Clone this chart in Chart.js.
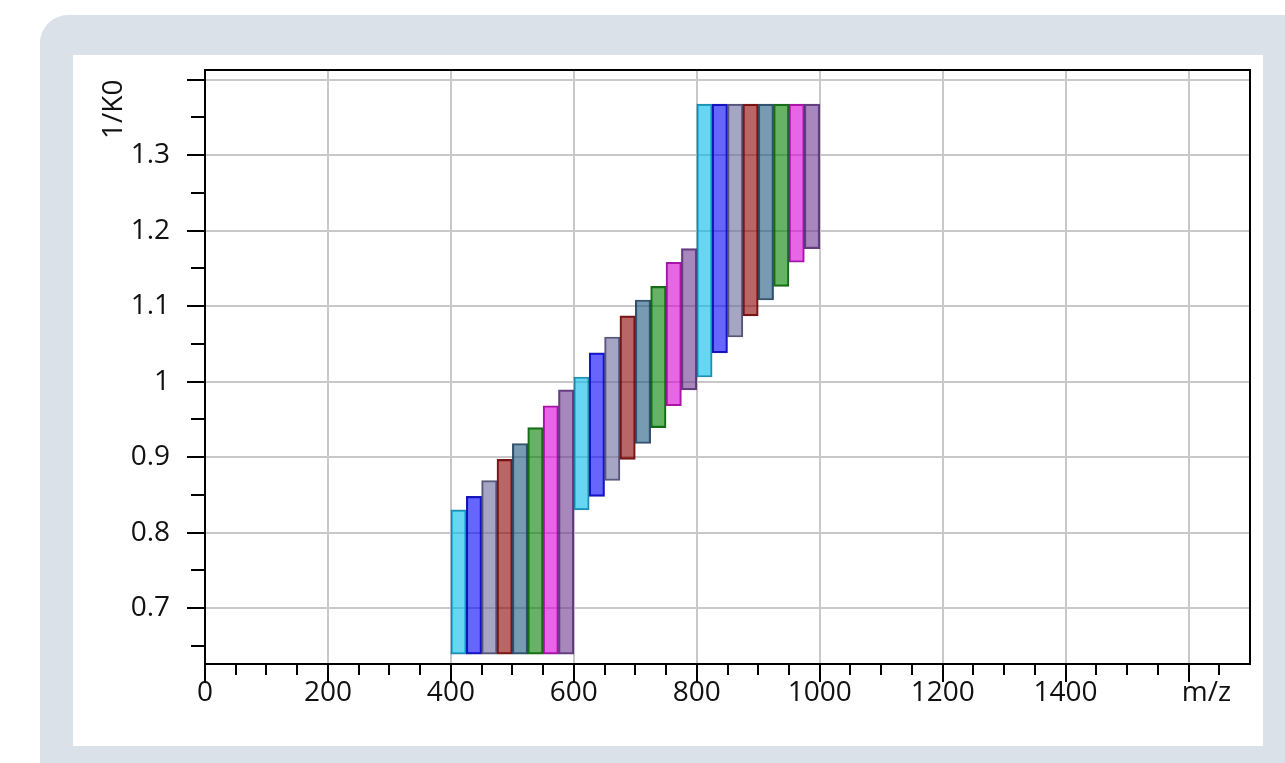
<!DOCTYPE html>
<html>
<head>
<meta charset="utf-8">
<script src="https://cdn.jsdelivr.net/npm/chart.js@4.4.1/dist/chart.umd.min.js"></script>
<style>
  html, body { margin: 0; padding: 0; background: #ffffff; width: 1285px; height: 763px; overflow: hidden; }
  #panel { position: absolute; left: 40px; top: 15px; width: 1320px; height: 820px; background: #dae1e8; border-radius: 28px; }
  #box { position: absolute; left: 73px; top: 55px; width: 1190px; height: 691px; background: #ffffff; }
  #box canvas { display: block; }
</style>
</head>
<body>
<div id="panel"></div>
<div id="box"><canvas id="chart"></canvas></div>
<script>
// ---- data ----
const mzLow  = [400, 425, 450, 475, 500, 525, 550, 575,
                600, 625, 650, 675, 700, 725, 750, 775,
                800, 825, 850, 875, 900, 925, 950, 975];
const mzHigh = [425, 450, 475, 500, 525, 550, 575, 600,
                625, 650, 675, 700, 725, 750, 775, 800,
                825, 850, 875, 900, 925, 950, 975, 1000];
const k0Low  = [0.639, 0.639, 0.639, 0.639, 0.639, 0.639, 0.639, 0.639,
                0.830, 0.848, 0.869, 0.897, 0.918, 0.939, 0.968, 0.989,
                1.006, 1.038, 1.059, 1.087, 1.108, 1.126, 1.158, 1.176];
const k0High = [0.830, 0.848, 0.869, 0.897, 0.918, 0.939, 0.968, 0.989,
                1.006, 1.038, 1.059, 1.087, 1.108, 1.126, 1.158, 1.176,
                1.3675, 1.3675, 1.3675, 1.3675, 1.3675, 1.3675, 1.3675, 1.3675];

const xTickValues = [0, 200, 400, 600, 800, 1000, 1200, 1400, 1600];
const xTickLabels = ['0', '200', '400', '600', '800', '1000', '1200', '1400', 'm/z'];
const yTickValues = [0.7, 0.8, 0.9, 1.0, 1.1, 1.2, 1.3, 1.4];
const yTickLabels = ['0.7', '0.8', '0.9', '1', '1.1', '1.2', '1.3', '1/K0'];

// ---- styles ----
const fillColors = ['rgba(0,187,233,0.6)', 'rgba(0,0,255,0.6)', 'rgba(107,107,157,0.6)', 'rgba(139,0,0,0.6)',
                    'rgba(30,88,130,0.6)', 'rgba(0,128,0,0.6)', 'rgba(214,0,214,0.6)', 'rgba(110,57,143,0.6)'];
const edgeColors = ['rgba(0,120,160,0.85)', 'rgba(0,0,170,0.9)', 'rgba(55,55,95,0.85)', 'rgba(100,0,0,0.9)',
                    'rgba(20,50,80,0.85)', 'rgba(0,90,0,0.9)', 'rgba(150,0,150,0.9)', 'rgba(70,30,100,0.85)'];
const FONT_FAMILY = "'Open Sans', 'Noto Sans', sans-serif";
const FONT_SIZE = 28;
const TEXT_COLOR = '#111111';
const X_PAD = 12;

Chart.defaults.font.family = FONT_FAMILY;
Chart.defaults.font.size = FONT_SIZE;
Chart.defaults.color = TEXT_COLOR;

const axisDecor = {
  id: 'axisDecor',
  afterDraw(chart) {
    const { ctx, chartArea: a, scales: { x, y } } = chart;
    ctx.save();
    ctx.strokeStyle = '#000';
    ctx.lineWidth = 2;
    ctx.beginPath();
    ctx.moveTo(a.left, a.top); ctx.lineTo(a.right, a.top); ctx.lineTo(a.right, a.bottom);
    ctx.stroke();
    ctx.beginPath();
    for (let k = 0; k <= 33; k++) {
      const v = k * 50;
      const px = Math.round(x.getPixelForValue(v));
      const len = (k % 4 === 0) ? 18 : 11;
      ctx.moveTo(px, a.bottom); ctx.lineTo(px, a.bottom + len);
    }
    for (let k = 13; k <= 28; k++) {
      const v = k * 0.05;
      const py = Math.round(y.getPixelForValue(v));
      const len = (k % 2 === 0) ? 18 : 14;
      ctx.moveTo(a.left, py); ctx.lineTo(a.left - len, py);
    }
    ctx.stroke();
    // special axis-name labels that sit in tick-label positions
    ctx.fillStyle = TEXT_COLOR;
    ctx.font = FONT_SIZE + 'px ' + FONT_FAMILY;
    ctx.textBaseline = 'middle';
    ctx.textAlign = 'center';
    const lx = xTickValues.length - 1;
    ctx.fillText(xTickLabels[lx], x.getPixelForValue(xTickValues[lx]) + 18, a.bottom + X_PAD + FONT_SIZE * 0.6);
    const ly = yTickValues.length - 1;
    ctx.save();
    ctx.translate(a.left - 91, y.getPixelForValue(yTickValues[ly]));
    ctx.rotate(-Math.PI / 2);
    ctx.textAlign = 'right';
    ctx.fillText(yTickLabels[ly], 0, 0);
    ctx.restore();
    ctx.restore();
  }
};

function zeroPad(s) { s.paddingLeft = 0; s.paddingRight = 0; s.paddingTop = 0; s.paddingBottom = 0; }

new Chart(document.getElementById('chart'), {
  type: 'bar',
  data: {
    datasets: [{
      data: mzLow.map((lo, i) => ({ x: (lo + mzHigh[i]) / 2, y: [k0Low[i], k0High[i]] })),
      backgroundColor: mzLow.map((_, i) => fillColors[i % 8]),
      borderColor: mzLow.map((_, i) => edgeColors[i % 8]),
      borderWidth: 1.5,
      borderSkipped: false,
      barPercentage: 1,
      categoryPercentage: 1,
      grouped: false
    }]
  },
  options: {
    responsive: true,
    maintainAspectRatio: false,
    devicePixelRatio: 1,
    animation: false,
    layout: { padding: { top: 15, right: 13, left: 0, bottom: 0 } },
    plugins: { legend: { display: false }, tooltip: { enabled: false } },
    scales: {
      x: {
        type: 'linear', min: 0, max: 1700, offset: false,
        afterBuildTicks: s => { s.ticks = xTickValues.map(v => ({ value: v })); },
        afterFit: s => { s.height = 82; zeroPad(s); },
        grid: { offset: false, color: '#c8c8c8', lineWidth: 2, drawTicks: false },
        border: { display: true, color: '#000', width: 2 },
        ticks: {
          autoSkip: false, maxRotation: 0, minRotation: 0, padding: X_PAD,
          callback: (v, i) => (i === xTickValues.length - 1 ? '' : xTickLabels[i])
        }
      },
      y: {
        type: 'linear', min: 0.626, max: 1.4126, beginAtZero: false,
        afterBuildTicks: s => { s.ticks = yTickValues.map(v => ({ value: v })); },
        afterFit: s => { s.width = 132; zeroPad(s); },
        grid: { color: '#c8c8c8', lineWidth: 2, drawTicks: false },
        border: { display: true, color: '#000', width: 2 },
        ticks: {
          autoSkip: false, padding: 35,
          callback: (v, i) => (i === yTickValues.length - 1 ? '' : yTickLabels[i])
        }
      }
    }
  },
  plugins: [axisDecor]
});
</script>
</body>
</html>
